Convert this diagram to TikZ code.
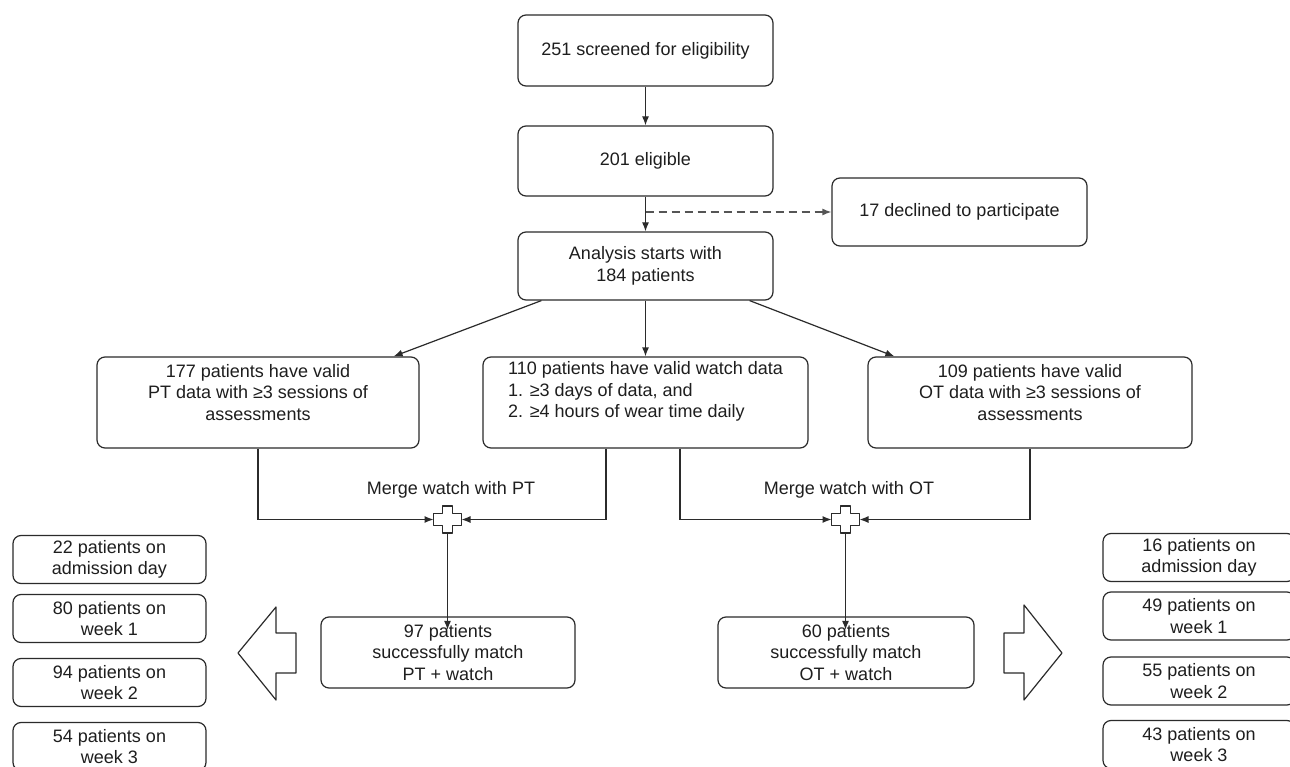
\documentclass[tikz,border=0pt]{standalone}
\usepackage{fontspec}
\setmainfont{Liberation Sans}
\usetikzlibrary{arrows.meta}
\definecolor{ln}{HTML}{2B2B2B}
\definecolor{tx}{HTML}{1E1E1E}
\begin{document}
\begin{tikzpicture}[x=1pt,y=-1pt,
  box/.style={draw=ln, line width=1.2pt, rounded corners=8pt, fill=white, inner sep=0pt,
    font=\fontsize{18}{21.5}\selectfont, text=tx, align=center},
  lbl/.style={inner sep=0pt, font=\fontsize{18}{21.5}\selectfont, text=tx, align=center},
  arr/.style={draw=ln, line width=1.2pt, -{Latex[length=9pt,width=7pt]}},
  dasharr/.style={draw=ln!80, line width=1.4pt, dash pattern=on 8pt off 5pt, -{Latex[length=9pt,width=7pt]}},
  shp/.style={draw=ln, line width=1.2pt, fill=white, line join=round},
]
\useasboundingbox (0,0) rectangle (1290,767);
\clip (0,0) rectangle (1290,767);
\fill[white] (0,0) rectangle (1290,767);

% main column
\node[box, minimum width=255pt, minimum height=71pt] (scr) at (645.5,50.5) {251 screened for eligibility};
\node[box, minimum width=255pt, minimum height=70pt] (elig) at (645.5,161) {201 eligible};
\node[box, minimum width=255pt, minimum height=68pt] (decl) at (959.5,212) {17 declined to participate};
\node[box, minimum width=255pt, minimum height=68pt] (an) at (645.5,266) {Analysis starts with\\184 patients};

% second row boxes (text sits in the upper part)
\node[box, minimum width=322pt, minimum height=91pt] (pt) at (258,402.5) {};
\node[lbl] (ptt) at (258,392.5) {177 patients have valid\\PT data with \char"2265 3 sessions of\\assessments};
\node[box, minimum width=325pt, minimum height=91pt] (wa) at (645.5,402.5) {};
\node[lbl] (wat) at (645.5,392) {\begin{tabular}{@{}l@{}}\multicolumn{1}{@{}c@{}}{110 patients have valid watch data}\\1. \char"2265 3 days of data, and\\2. \char"2265 4 hours of wear time daily\end{tabular}};
\node[box, minimum width=324pt, minimum height=91pt] (ot) at (1030,402.5) {};
\node[lbl] (ott) at (1030,392.5) {109 patients have valid\\OT data with \char"2265 3 sessions of\\assessments};

\node[box, minimum width=254pt, minimum height=71pt] (m97) at (448,652.5) {97 patients\\successfully match\\PT + watch};
\node[box, minimum width=256pt, minimum height=71pt] (m60) at (846,652.5) {60 patients\\successfully match\\OT + watch};

\node[lbl] (lpt) at (451,490) {Merge watch with PT};
\node[lbl] (lot) at (849,490) {Merge watch with OT};

% plus symbols
\coordinate (p1) at (447.5,519.5);
\coordinate (p2) at (845.5,519.5);
\foreach \p in {p1,p2}{
  \draw[shp, shift={(\p)}] (-14,-6) -- (-5,-6) -- (-5,-13.5) -- (5,-13.5) -- (5,-6) -- (14,-6)
     -- (14,6) -- (5,6) -- (5,13.5) -- (-5,13.5) -- (-5,6) -- (-14,6) -- cycle;
}

% left side boxes
\node[box, minimum width=193pt, minimum height=48pt] (l1) at (109.5,559.5) {22 patients on\\admission day};
\node[box, minimum width=193pt, minimum height=48pt] (l2) at (109.5,618.5) {80 patients on\\week 1};
\node[box, minimum width=193pt, minimum height=48pt] (l3) at (109.5,682.5) {94 patients on\\week 2};
\node[box, minimum width=193pt, minimum height=48pt] (l4) at (109.5,746.5) {54 patients on\\week 3};

% right side boxes
\node[box, minimum width=192pt, minimum height=48pt] (r1) at (1199,557.5) {16 patients on\\admission day};
\node[box, minimum width=192pt, minimum height=48pt] (r2) at (1199,616) {49 patients on\\week 1};
\node[box, minimum width=192pt, minimum height=48pt] (r3) at (1199,681) {55 patients on\\week 2};
\node[box, minimum width=192pt, minimum height=48pt] (r4) at (1199,744.5) {43 patients on\\week 3};

% big block arrows
\draw[shp] (238,653) -- (276,607) -- (276,633) -- (296,633) -- (296,673) -- (276,673) -- (276,700) -- cycle;
\draw[shp] (1062,653) -- (1024,605) -- (1024,633) -- (1004,633) -- (1004,673) -- (1024,673) -- (1024,700) -- cycle;

% connectors
\draw[arr] (scr.south) -- (elig.north);
\draw[arr] (elig.south) -- (an.north);
\draw[dasharr] (elig.south |- decl.west) -- (decl.west);
\draw[arr] ([xshift=24pt]an.south west) -- ([xshift=-26pt]pt.north east);
\draw[arr] (an.south) -- (wa.north);
\draw[arr] ([xshift=-24pt]an.south east) -- ([xshift=27pt]ot.north west);

\draw[arr] (pt.south) |- ([xshift=-14pt]p1);
\draw[arr] ([xshift=-39.5pt]wa.south) |- ([xshift=14pt]p1);
\draw[arr] ([yshift=-13.5pt]p1) -- ([yshift=-13.5pt]p1 |- m97.north);

\draw[arr] ([xshift=34.5pt]wa.south) |- ([xshift=-14pt]p2);
\draw[arr] (ot.south) |- ([xshift=14pt]p2);
\draw[arr] ([yshift=-13.5pt]p2) -- ([yshift=-13.5pt]p2 |- m60.north);
\end{tikzpicture}
\end{document}
